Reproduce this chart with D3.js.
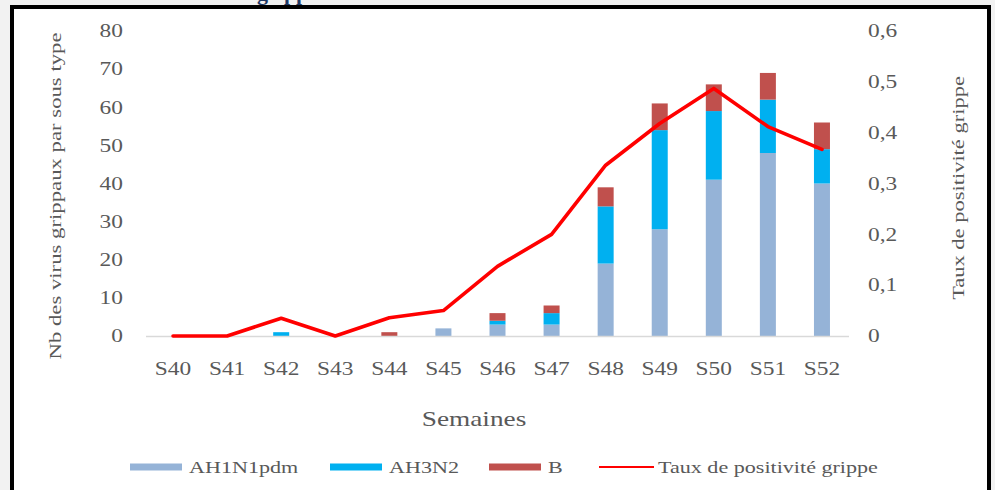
<!DOCTYPE html>
<html>
<head>
<meta charset="utf-8">
<script src="https://cdn.jsdelivr.net/npm/d3@7"></script>
<style>
  html, body { margin: 0; padding: 0; background: #f2f2f2; }
  svg { display: block; }
  text { font-family: "Liberation Serif", "Times New Roman", serif; }
</style>
</head>
<body>
<svg id="chart" width="995" height="490"></svg>
<script>
// Weekly influenza surveillance: virus counts by subtype (stacked) and positivity rate (line)
const weeks = ["S40","S41","S42","S43","S44","S45","S46","S47","S48","S49","S50","S51","S52"];
const ah1n1pdm = [0, 0, 0, 0, 0, 2, 3, 3, 19, 28, 41, 48, 40];
const ah3n2    = [0, 0, 1, 0, 0, 0, 1, 3, 15, 26, 18, 14, 9];
const typeB    = [0, 0, 0, 0, 1, 0, 2, 2, 5, 7, 7, 7, 7];
const positivite = [0, 0, 0.035, 0, 0.036, 0.05, 0.137, 0.2, 0.336, 0.418, 0.487, 0.412, 0.367];
const leftTicks = [0, 10, 20, 30, 40, 50, 60, 70, 80];
const rightTicks = [0, 0.1, 0.2, 0.3, 0.4, 0.5, 0.6];
const seriesNames = ["AH1N1pdm", "AH3N2", "B"];
const seriesColors = ["#95b3d7", "#00b0f0", "#c0504d"];
const lineName = "Taux de positivité grippe";
const lineColor = "#ff0000";

const svg = d3.select("#chart");
const SX = 1.3;            // horizontal stretch applied to the serif labels
const textColor = "#595959";

// framed white panel
svg.append("rect").attr("x", 12).attr("y", 7).attr("width", 977).attr("height", 500)
  .attr("fill", "#ffffff").attr("stroke", "#000").attr("stroke-width", 4);

// caption line above the frame (only the descenders are visible)
svg.append("text").attr("x", 257).attr("y", -0.5)
  .attr("font-size", 22).attr("font-weight", "bold").attr("fill", "#1f3864")
  .text("grippe");

const x = d3.scaleBand().domain(weeks).range([146, 849]).paddingInner(0).paddingOuter(0);
const yL = d3.scaleLinear().domain([0, 80]).range([336, 31]);
const yR = d3.scaleLinear().domain([0, 0.6]).range([336, 31]);
const barW = 16;

// stacked bars
const rows = weeks.map((w, i) => ({ week: w, AH1N1pdm: ah1n1pdm[i], AH3N2: ah3n2[i], B: typeB[i] }));
const stacked = d3.stack().keys(seriesNames)(rows);
const gBars = svg.append("g");
stacked.forEach((layer, k) => {
  gBars.append("g").attr("fill", seriesColors[k])
    .selectAll("rect").data(layer.filter(d => d[1] > d[0])).join("rect")
    .attr("x", d => x(d.data.week) + x.bandwidth() / 2 - barW / 2)
    .attr("width", barW)
    .attr("y", d => yL(d[1]))
    .attr("height", d => yL(d[0]) - yL(d[1]));
});

// horizontal baseline
svg.append("line").attr("x1", 146).attr("x2", 849).attr("y1", 336.5).attr("y2", 336.5)
  .attr("stroke", "#d9d9d9").attr("stroke-width", 1.5);

// positivity line
const line = d3.line().x((d, i) => x(weeks[i]) + x.bandwidth() / 2).y(d => yR(d));
svg.append("path").datum(positivite).attr("d", line)
  .attr("fill", "none").attr("stroke", lineColor).attr("stroke-width", 3.6)
  .attr("stroke-linejoin", "round").attr("stroke-linecap", "round");

function styleTicks(g, anchor, pad, dy) {
  g.select(".domain").remove();
  g.selectAll(".tick line").remove();
  g.selectAll(".tick text")
    .attr("font-family", "Liberation Serif, serif")
    .attr("font-size", 18).attr("fill", textColor)
    .attr("text-anchor", anchor)
    .attr("x", pad / SX).attr("dy", dy)
    .attr("transform", `scale(${SX},1)`);
}

// left axis
svg.append("g").attr("transform", "translate(146,0)")
  .call(d3.axisLeft(yL).tickValues(leftTicks).tickSize(0).tickFormat(d3.format("d")))
  .call(g => styleTicks(g, "end", -23, "0.32em"));

// right axis
const fr = d3.formatLocale({ decimal: ",", thousands: " ", grouping: [3], currency: ["", ""] });
svg.append("g").attr("transform", "translate(849,0)")
  .call(d3.axisRight(yR).tickValues(rightTicks).tickSize(0).tickFormat(d => d === 0 ? "0" : fr.format(".1f")(d)))
  .call(g => styleTicks(g, "start", 19, "0.32em"));

// bottom axis
svg.append("g").attr("transform", "translate(0,336)")
  .call(d3.axisBottom(x).tickSize(0))
  .call(g => {
    g.select(".domain").remove();
    g.selectAll(".tick text")
      .attr("font-family", "Liberation Serif, serif")
      .attr("font-size", 18).attr("fill", textColor)
      .attr("y", 0).attr("dy", 39.5)
      .attr("transform", `scale(${SX},1)`);
    g.selectAll(".tick").attr("transform", d => `translate(${(x(d) + x.bandwidth() / 2)},0)`);
  });

// axis titles
function stretchedText(tx, ty, rot, size, str, anchor) {
  svg.append("text")
    .attr("transform", `translate(${tx},${ty}) rotate(${rot}) scale(${SX},1)`)
    .attr("text-anchor", anchor || "middle")
    .attr("font-size", size).attr("fill", textColor)
    .text(str);
}
stretchedText(61, 196, -90, 17.5, "Nb des virus grippaux par sous type");
stretchedText(964, 188, -90, 17.3, "Taux de positivité grippe");
stretchedText(474, 426, 0, 21, "Semaines");

// legend
const legend = svg.append("g");
const legendItems = [
  { name: seriesNames[0], color: seriesColors[0], x: 130, type: "bar" },
  { name: seriesNames[1], color: seriesColors[1], x: 330, type: "bar" },
  { name: seriesNames[2], color: seriesColors[2], x: 489, type: "bar" },
  { name: lineName, color: lineColor, x: 599, type: "line" }
];
const ly = 467;
legendItems.forEach(it => {
  if (it.type === "bar") {
    legend.append("rect").attr("x", it.x).attr("y", ly - 3.5).attr("width", 52).attr("height", 7).attr("fill", it.color);
  } else {
    legend.append("line").attr("x1", it.x).attr("x2", it.x + 55).attr("y1", ly).attr("y2", ly)
      .attr("stroke", it.color).attr("stroke-width", 2);
  }
  const tx = it.x + (it.type === "bar" ? 59 : 59);
  legend.append("text")
    .attr("transform", `translate(${tx},${ly + 6}) scale(${SX},1)`)
    .attr("font-size", 17).attr("fill", textColor)
    .text(it.name);
});
</script>
</body>
</html>
